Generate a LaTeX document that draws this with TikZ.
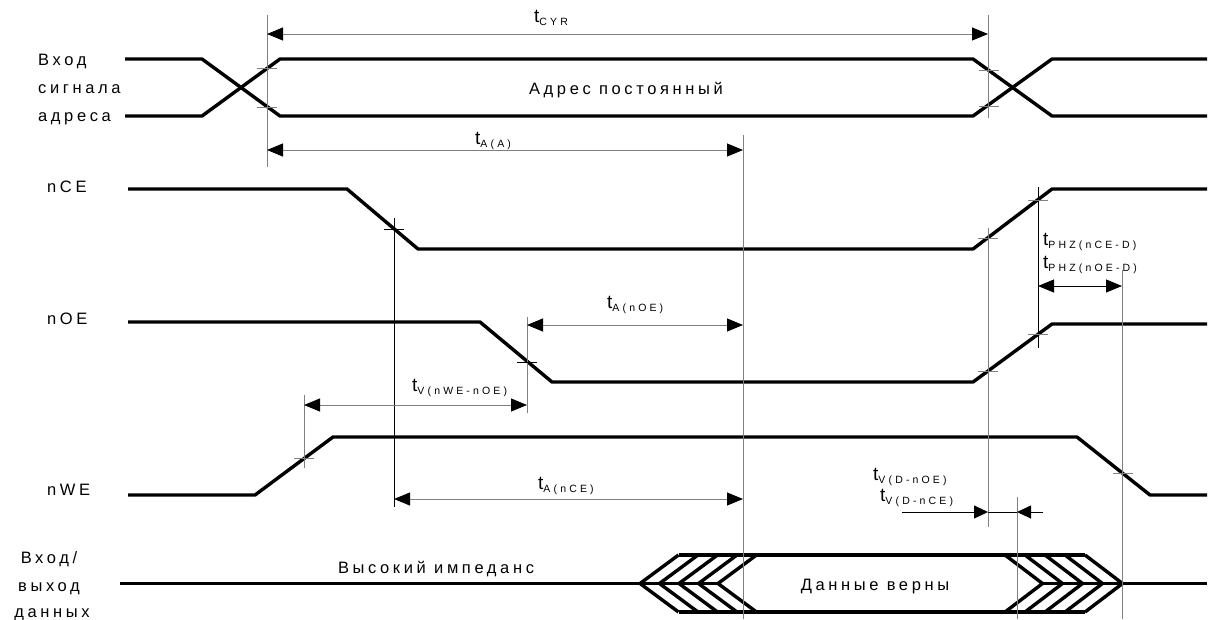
\documentclass[tikz,border=0pt]{standalone}
\usepackage{fontspec}
\setmainfont{Liberation Sans}
\newfontfamily\spaced[LetterSpace=22]{Liberation Sans}
\newfontfamily\subspaced[LetterSpace=30]{Liberation Sans}
\usepackage{tikz}
\usetikzlibrary{arrows.meta}

\newcommand{\tlab}[1]{{\fontsize{19}{19}\selectfont t}\raisebox{-3pt}{\fontsize{10.5}{10.5}\subspaced #1}}

\begin{document}
\begin{tikzpicture}[line join=round, x=1pt, y=-1pt,
  sig/.style={line width=3.4pt},
  guide/.style={line width=0.9pt, black!50},
  guideb/.style={line width=0.9pt, black},
  tick/.style={line width=0.9pt, black!50},
  dim/.style={line width=0.9pt, black!50,
    {Triangle[length=16pt,width=13pt,color=black]}-{Triangle[length=16pt,width=13pt,color=black]}},
  dimb/.style={line width=0.9pt, black},
  txt/.style={inner sep=0pt, font=\spaced\fontsize{16.5}{16.5}\selectfont},
  tlbl/.style={inner sep=0pt, anchor=base west}]

\useasboundingbox (0,0) rectangle (1214,619);

% timing markers
\coordinate (mA) at (267,0);
\coordinate (mB) at (988,0);
\coordinate (mC) at (743,0);
\coordinate (mD) at (394,0);
\coordinate (mE) at (527,0);
\coordinate (mF) at (304,0);
\coordinate (mG) at (1038,0);
\coordinate (mH) at (1122,0);
\coordinate (mI) at (1017,0);

% signal names
\node[txt, anchor=base west] (adrIn) at (38,65) {Вход};
\node[txt, anchor=base west] (adrSig) at (38,93) {сигнала};
\node[txt, anchor=base west] (adrAdr) at (38,121) {адреса};
\node[txt, anchor=base west] (nce) at (47,192) {nCE};
\node[txt, anchor=base west] (noe) at (47,324) {nOE};
\node[txt, anchor=base west] (nwe) at (47,495) {nWE};
\node[txt, anchor=base] (datIn) at (49,563) {Вход/};
\node[txt, anchor=base] (datOut) at (49,591) {выход};
\node[txt, anchor=base] (datData) at (52,617) {данных};

% address
\draw[sig] (125,59) -- (202,59) -- (280,116) -- (973,116) -- (1052,59) -- (1207,59);
\draw[sig] (125,116) -- (202,116) -- (280,59) -- (973,59) -- (1052,116) -- (1207,116);
\node[txt, anchor=base] (adrConst) at (626,94) {Адрес постоянный};

% nCE, nOE, nWE
\draw[sig] (128,189) -- (347,189) -- (418,249) -- (973,249) -- (1052,189) -- (1207,189);
\draw[sig] (128,322) -- (480,322) -- (552,382) -- (973,382) -- (1052,324) -- (1207,324);
\draw[sig] (128,495) -- (255,495) -- (333,437) -- (1077,437) -- (1150,495) -- (1207,495);

% data
\draw[sig] (120,583.5) -- (718,583.5);
\draw[sig] (1042.5,583.5) -- (1207,583.5);
\draw[sig] (678.5,555) -- (1085,555);
\draw[sig] (678.5,612) -- (1085,612);
\draw[sig] (678.5,555) -- (640,583.5) -- (678.5,612);
\draw[sig] (698,555) -- (659.5,583.5) -- (698,612);
\draw[sig] (717.5,555) -- (679,583.5) -- (717.5,612);
\draw[sig] (737,555) -- (698.5,583.5) -- (737,612);
\draw[sig] (756.5,555) -- (718,583.5) -- (756.5,612);
\draw[sig] (1005,555) -- (1042.5,583.5) -- (1005,612);
\draw[sig] (1025,555) -- (1062.5,583.5) -- (1025,612);
\draw[sig] (1045,555) -- (1082.5,583.5) -- (1045,612);
\draw[sig] (1065,555) -- (1102.5,583.5) -- (1065,612);
\draw[sig] (1085,555) -- (1122.5,583.5) -- (1085,612);
\node[txt, anchor=base] (hiZ) at (436,573) {Высокий импеданс};
\node[txt, anchor=base] (valid) at (875,590) {Данные верны};

% guide lines
\draw[guide] (mA |- 0,15) -- (mA |- 0,167);
\draw[guide] (mB |- 0,15) -- (mB |- 0,118);
\draw[guide] (mC |- 0,135) -- (mC |- 0,619);
\draw[guideb] (mD |- 0,218) -- (mD |- 0,507);
\draw[guide] (mE |- 0,317) -- (mE |- 0,413);
\draw[guide] (mF |- 0,395) -- (mF |- 0,468);
\draw[guide] (mB |- 0,228) -- (mB |- 0,527);
\draw[guideb] (mG |- 0,187) -- (mG |- 0,348);
\draw[guide] (mH |- 0,270) -- (mH |- 0,619);
\draw[guide] (mI |- 0,497) -- (mI |- 0,619);

% crossing ticks
\draw[tick] (257,68) -- +(20,0);
\draw[tick] (257,107) -- +(20,0);
\draw[tick] (979,70) -- +(20,0);
\draw[tick] (979,106) -- +(20,0);
\draw[tick, black] (384,229) -- +(20,0);
\draw[tick] (978,238) -- +(20,0);
\draw[tick] (1028,200) -- +(20,0);
\draw[tick, black] (517,362) -- +(20,0);
\draw[tick] (978,371) -- +(20,0);
\draw[tick] (1028,334) -- +(20,0);
\draw[tick] (294,458) -- +(20,0);
\draw[tick] (1113,473) -- +(20,0);

% time intervals
\draw[dim] (mA |- 0,34) -- (mB |- 0,34);
\node[tlbl] (tcyr) at (534,22) {\tlab{CYR}};

\draw[dim] (mA |- 0,150) -- (mC |- 0,150);
\node[tlbl] (taa) at (475,144) {\tlab{A(A)}};

\draw[dim] (mE |- 0,325) -- (mC |- 0,325);
\node[tlbl] (tanoe) at (607,308) {\tlab{A(nOE)}};

\draw[dim] (mF |- 0,405) -- (mE |- 0,405);
\node[tlbl] (tvwe) at (412,391) {\tlab{V(nWE-nOE)}};

\draw[dim] (mD |- 0,499) -- (mC |- 0,499);
\node[tlbl] (tance) at (538,489) {\tlab{A(nCE)}};

\draw[dim, black] (mG |- 0,286) -- (mH |- 0,286);
\node[tlbl] (tphzce) at (1043,245) {\tlab{PHZ(nCE-D)}};
\node[tlbl] (tphzoe) at (1043,268) {\tlab{PHZ(nOE-D)}};

\coordinate (tvL) at (902,512);
\coordinate (tvR) at (1043,512);
\draw[dimb, -{Triangle[length=14pt,width=13pt]}] (tvL) -- (mB |- tvL);
\draw[dimb] (mB |- tvL) -- (mI |- tvL);
\draw[dimb, -{Triangle[length=14pt,width=13pt]}] (tvR) -- (mI |- tvR);
\node[tlbl] (tvdoe) at (873,480) {\tlab{V(D-nOE)}};
\node[tlbl] (tvdce) at (880,501) {\tlab{V(D-nCE)}};

\end{tikzpicture}
\end{document}
